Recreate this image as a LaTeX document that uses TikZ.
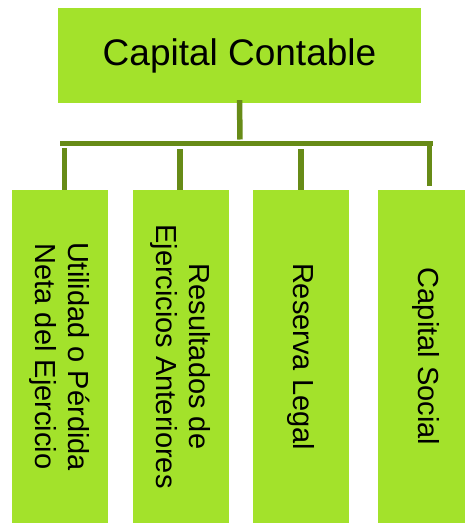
\documentclass[tikz,border=0pt]{standalone}
\usepackage{fontspec}
\setmainfont{Liberation Sans}
\definecolor{leaf}{HTML}{A3E22B}
\definecolor{stem}{HTML}{678B17}
\begin{document}
\begin{tikzpicture}[x=1pt,y=-1pt,
  topbox/.style={fill=leaf,draw=none,minimum width=363pt,minimum height=95pt,inner sep=0pt,
    font=\fontsize{37}{40}\selectfont},
  childbox/.style={fill=leaf,draw=none,minimum width=96pt,minimum height=333pt,inner sep=0pt},
  childlabel/.style={rotate=-90,align=center,inner sep=0pt,font=\fontsize{29}{33}\selectfont},
  link/.style={draw=stem,line width=5.5pt}]
\useasboundingbox (0,0) rectangle (464,523);

% root box
\node[topbox] (root) at (239.5,55.5) {Capital Contable};

% the four component boxes
\node[childbox] (b1) at (60,356.5) {};
\node[childbox] (b2) at (180.5,356.5) {};
\node[childbox] (b3) at (301,356.5) {};
\node[childbox] (b4) at (426,356.5) {};

\node[childlabel] at (b1) {Utilidad o Pérdida\\Neta del Ejercicio};
\node[childlabel] at (b2) {Resultados de\\Ejercicios Anteriores};
\node[childlabel] at (b3) {Reserva Legal};
\node[childlabel] at (b4) {Capital Social};

% tree connectors
\coordinate (hub) at (240,143.5);
\coordinate (barL) at (60,143.5);
\coordinate (barR) at (433,143.5);
\draw[link] ([yshift=3pt]root.south) -- ([yshift=4pt]hub);
\draw[link] (barL) -- (barR);
\draw[link] (64.5,148) -- ([xshift=4.5pt]b1.north);
\draw[link] (180,149) -- ([xshift=-0.5pt]b2.north);
\draw[link] (301,149) -- (b3.north);
\draw[link] (429.5,143.5) -- ([xshift=3.5pt,yshift=4pt]b4.north);
\end{tikzpicture}
\end{document}
